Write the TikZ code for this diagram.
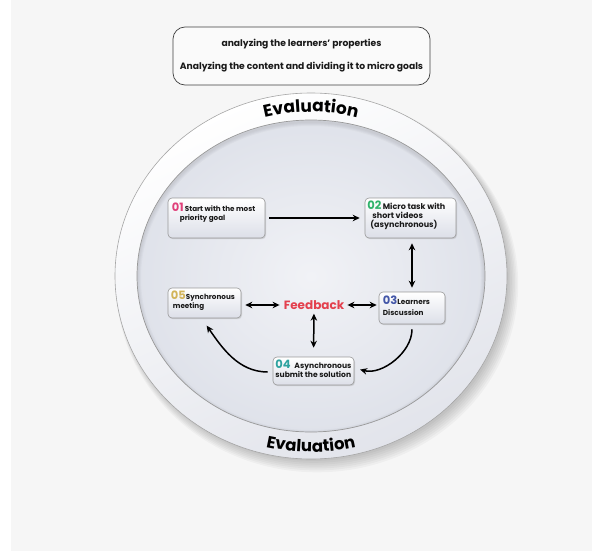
\documentclass[tikz,border=0pt]{standalone}
\usepackage{fontspec}
\setmainfont{Poppins}
\newfontfamily\evalfont{Poppins}[LetterSpace=4]
\newfontfamily\evalfontb{Poppins}[LetterSpace=8]
\usetikzlibrary{arrows.meta,shadows,decorations.text}
\definecolor{bgc}{HTML}{F6F6F6}
\definecolor{boxbot}{HTML}{DCDFE8}
\definecolor{ringbot}{HTML}{E2E4EB}
\definecolor{diskin}{HTML}{F1F2F6}
\definecolor{diskout}{HTML}{DFE2EA}
\definecolor{fbred}{HTML}{E3404E}
\definecolor{cA}{HTML}{E0407A}
\definecolor{cB}{HTML}{2FB36B}
\definecolor{cC}{HTML}{4457A8}
\definecolor{cD}{HTML}{2FA3A0}
\definecolor{cE}{HTML}{D2B45A}
\newcommand\numtag[2]{{\color{#1}\fontsize{11.5}{11.5}\selectfont #2}}
\begin{document}
\begin{tikzpicture}[x=1pt,y=1pt,
  box/.style={draw=black!40, line width=0.6pt, rounded corners=4pt, top color=white, bottom color=boxbot,
     drop shadow={shadow xshift=1pt, shadow yshift=-1.2pt, opacity=0.25}},
  tx/.style={anchor=north west, align=left, inner sep=0pt, text=black!90},
  arr/.style={line width=1.5pt, -{Stealth[length=7pt,width=6.5pt]}},
  barr/.style={line width=1.5pt, {Stealth[length=7pt,width=6.5pt]}-{Stealth[length=7pt,width=6.5pt]}},
  evaltext/.style={decorate, decoration={text along path, text align=center,
     text={|\evalfont\bfseries\fontsize{17}{20}\selectfont|Evaluation}}},
  evaltextb/.style={decorate, decoration={text along path, text align=center,
     text={|\evalfontb\bfseries\fontsize{16.5}{20}\selectfont|Evaluation}}}
]
\useasboundingbox (0,0) rectangle (592,-551);
\fill[white] (0,0) rectangle (592,-551);
\fill[bgc] (11,0) rectangle (592,-551);
\coordinate (C) at (311,-276);
% outer shadow
\foreach \i in {1,...,7}{
  \fill[black, opacity=0.03] ([xshift=2+0.6*\i, yshift=-2-0.9*\i]C) ellipse [x radius=194+\i, y radius=181+\i];
}
% ring
\shade[shading=axis, top color=white, bottom color=ringbot, shading angle=25] (C) ellipse [x radius=196, y radius=183];
\draw[black!35, line width=0.6pt] (C) ellipse [x radius=196, y radius=183];
% inner disk
\shade[inner color=diskin, outer color=diskout] (C) ellipse [x radius=174, y radius=156];
\begin{scope}
  \clip (C) ellipse [x radius=174, y radius=156];
  \foreach \i in {1,...,4}{
    \draw[black, opacity=0.025, line width=2*\i pt] ([yshift=-2]C) ellipse [x radius=174, y radius=156];
  }
\end{scope}
\draw[black!40, line width=0.7pt] (C) ellipse [x radius=174, y radius=156];
% Evaluation texts
\path[evaltext] (C) ++(115:180 and 164) arc [start angle=115, end angle=65, x radius=180, y radius=164];
\path[evaltextb] (C) ++(245:190 and 176) arc [start angle=245, end angle=295, x radius=190, y radius=176];
% top box
\node[draw=black!75, line width=0.7pt, rounded corners=12pt, minimum width=257pt, minimum height=58pt,
      fill=white!50!bgc, align=center, font=\bfseries\fontsize{9.2}{23}\selectfont, text=black!90]
  (top) at (301.5,-56) {analyzing the learners' properties\\Analyzing the content and dividing it to micro goals};
% boxes
\node[box, minimum width=97pt, minimum height=40pt] (b1) at (216.5,-218) {};
\node[box, minimum width=91pt, minimum height=40pt] (b2) at (410.5,-218) {};
\node[box, minimum width=66pt, minimum height=32pt] (b3) at (412,-308) {};
\node[box, minimum width=73pt, minimum height=30pt] (b5) at (204.5,-303) {};
\node[box, minimum width=81pt, minimum height=28pt] (b4) at (313.5,-371) {};
\node[tx, font=\bfseries\fontsize{7.2}{9}\selectfont] (t1) at ([xshift=4pt,yshift=-5pt]b1.north west) {\numtag{cA}{01}\,Start with the most\\\hspace{8pt}priority goal};
\node[tx, font=\bfseries\fontsize{8}{8.8}\selectfont] (t2) at ([xshift=2.5pt,yshift=-3.5pt]b2.north west) {\numtag{cB}{02}\,Micro task with\\\hspace{5pt}short videos\\\hspace{3pt}(asynchronous)};
\node[tx, font=\bfseries\fontsize{7.3}{11}\selectfont] (t3) at ([xshift=4pt,yshift=-4.5pt]b3.north west) {\numtag{cC}{03}Learners\\Discussion};
\node[tx, font=\bfseries\fontsize{7.2}{9}\selectfont] (t5) at ([xshift=3pt,yshift=-3.5pt]b5.north west) {\numtag{cE}{05}Synchronous\\\hspace{2pt}meeting};
\node[tx, font=\bfseries\fontsize{7.6}{9}\selectfont] (t4) at ([xshift=2.5pt,yshift=-3.5pt]b4.north west) {\numtag{cD}{04}\enspace Asynchronous\\submit the solution};
% feedback
\node[font=\bfseries\fontsize{12}{12}\selectfont, text=fbred, inner sep=1pt] (fb) at (314,-305) {Feedback};
% connectors
\draw[arr, shorten <=4pt, shorten >=5pt] (b1.east) -- (b2.west);
\draw[barr, shorten <=5pt, shorten >=4pt] (b3.north |- b2.south) -- (b3.north);
\draw[barr, shorten <=4pt, shorten >=3pt] (fb.west -| b5.east) -- (fb.west);
\draw[barr, shorten <=2pt, shorten >=2pt] (fb.east) -- (fb.east -| b3.west);
\draw[barr, shorten <=3pt, shorten >=9pt] (fb.south) -- (b4.north);
\draw[arr, shorten <=5pt, shorten >=6pt] (b3.south) to[out=-90, in=-15] ([yshift=3pt]b4.east);
\draw[arr, shorten <=5pt, shorten >=9pt] ([yshift=-1pt]b4.west) to[out=180, in=-55] ([xshift=-3pt]b5.south);
\end{tikzpicture}
\end{document}
